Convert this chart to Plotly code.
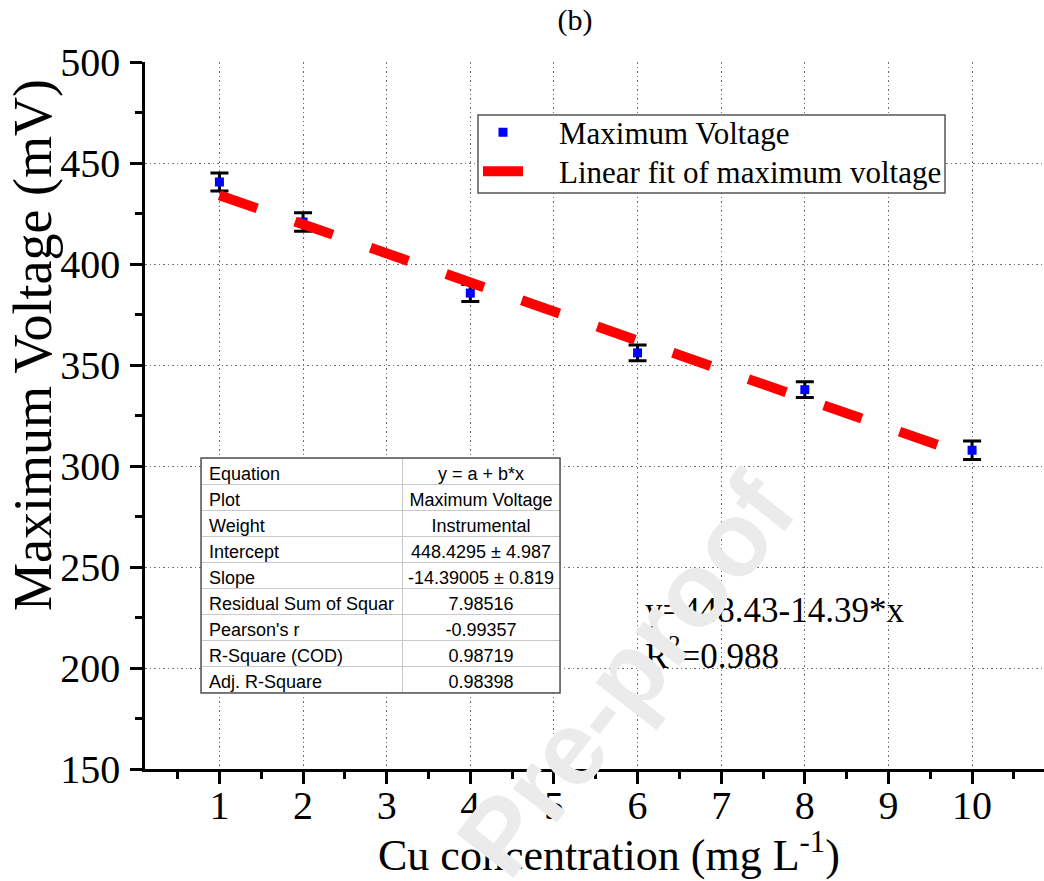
import plotly.graph_objects as go

# ---- data ----
conc = [1, 2, 4, 6, 8, 10]
voltage = [440.6, 420.8, 385.6, 356.0, 337.8, 307.8]
voltage_err = [4.5, 4.6, 4.2, 3.9, 3.9, 4.6]

fit_x = [1, 10]
fit_y = [434.04, 304.53]

x_ticks = [1, 2, 3, 4, 5, 6, 7, 8, 9, 10]
x_minor = [0.5, 1.5, 2.5, 3.5, 4.5, 5.5, 6.5, 7.5, 8.5, 9.5, 10.5]
y_ticks = [150, 200, 250, 300, 350, 400, 450, 500]

table_labels = ["Equation", "Plot", "Weight", "Intercept", "Slope",
                "Residual Sum of Squar", "Pearson's r", "R-Square (COD)",
                "Adj. R-Square"]
table_values = ["y = a + b*x", "Maximum Voltage", "Instrumental",
                "448.4295 ± 4.987", "-14.39005 ± 0.819", "7.98516",
                "-0.99357", "0.98719", "0.98398"]

SERIF = "Liberation Serif"
SANS = "Liberation Sans"
NB = "\u00a0"

W, H = 1044, 881
L, T, B = 145, 62, 112
PW = W - L
PH = H - T - B


def px(xp):
    return (xp - L) / PW


def py(yp):
    return (H - B - yp) / PH


def nbsp(s):
    return s.replace(" ", NB)


fig = go.Figure()

fig.add_trace(go.Scatter(
    x=conc, y=voltage, mode="markers",
    name=NB * 4 + "Maximum Voltage", legend="legend",
    marker=dict(symbol="square", size=9, color="#0000FF"),
    error_y=dict(type="data", array=voltage_err, color="black",
                 thickness=3, width=9),
))

fig.add_trace(go.Scatter(
    x=fit_x, y=fit_y, mode="lines",
    name=NB * 4 + "Linear fit of maximum voltage", legend="legend2",
    line=dict(color="#FF0000", width=10, dash="40px,40px"),
))

tab_font = dict(family=SANS, size=18, color="black")
fig.add_trace(go.Table(
    domain=dict(x=[px(201), px(560)], y=[py(693), py(458)]),
    columnwidth=[201, 158],
    header=dict(values=[nbsp(table_labels[0]), nbsp(table_values[0])],
                align=["left", "center"], height=26, font=tab_font,
                fill_color="white", line=dict(color="#c8c8c8", width=1)),
    cells=dict(values=[[nbsp(s) for s in table_labels[1:]],
                       [nbsp(s) for s in table_values[1:]]],
               align=["left", "center"], height=26, font=tab_font,
               fill_color="white", line=dict(color="#c8c8c8", width=1)),
))

axis_font = dict(family=SERIF, size=40, color="black")
leg_font = dict(family=SERIF, size=31, color="black")

fig.update_layout(
    width=W, height=H,
    margin=dict(l=L, r=0, t=T, b=B),
    paper_bgcolor="white", plot_bgcolor="white",
    showlegend=True,
    legend=dict(x=px(478), y=py(105.5), xanchor="left", yanchor="top",
                bgcolor="rgba(0,0,0,0)", borderwidth=0, font=leg_font,
                itemwidth=40),
    legend2=dict(x=px(478), y=py(144.5), xanchor="left", yanchor="top",
                 bgcolor="rgba(0,0,0,0)", borderwidth=0, font=leg_font,
                 itemwidth=40),
    title=dict(text="(b)", x=575 / W, y=1 - 19 / H, xref="container",
               yref="container", xanchor="center", yanchor="middle",
               font=dict(family=SERIF, size=30, color="black")),
    xaxis=dict(range=[0.11, 10.86], tickvals=x_ticks, ticks="outside",
               ticklen=12, tickwidth=2.5, tickcolor="black",
               showline=True, linecolor="black", linewidth=3,
               showgrid=True, gridcolor="#707070", gridwidth=1,
               griddash="1.5px,3px", zeroline=False,
               tickfont=axis_font, ticklabelstandoff=-13,
               minor=dict(tickvals=x_minor, ticks="outside", ticklen=7,
                          tickwidth=2.5, tickcolor="black", showgrid=False)),
    xaxis2=dict(range=[0.11, 10.86], overlaying="x", side="top",
                anchor="y", tickvals=x_ticks, ticks="inside", ticklen=12,
                tickwidth=2.5, tickcolor="black", showticklabels=False,
                showline=True, linecolor="black", linewidth=3,
                showgrid=False, zeroline=False,
                minor=dict(tickvals=x_minor, ticks="inside", ticklen=7,
                           tickwidth=2.5, tickcolor="black", showgrid=False)),
    yaxis=dict(range=[150, 500], tickvals=y_ticks, ticks="outside",
               ticklen=12, tickwidth=2.5, tickcolor="black",
               showline=True, linecolor="black", linewidth=2.5,
               showgrid=True, gridcolor="#707070", gridwidth=1,
               griddash="1.5px,3px", zeroline=False,
               tickfont=axis_font, ticklabelstandoff=2,
               minor=dict(dtick=25, ticks="outside", ticklen=7,
                          tickwidth=2.5, tickcolor="black", showgrid=False)),
    yaxis2=dict(range=[150, 500], overlaying="y", side="right", anchor="x",
                tickvals=y_ticks, ticks="inside", ticklen=11, tickwidth=2.5,
                tickcolor="black", showticklabels=False, showline=False,
                showgrid=False, zeroline=False,
                minor=dict(dtick=25, ticks="inside", ticklen=6,
                           tickwidth=2.5, tickcolor="black", showgrid=False)),
)

# legend frame
fig.add_shape(type="rect", xref="paper", yref="paper",
              x0=px(478), x1=px(945), y0=py(193), y1=py(115),
              fillcolor="white", line=dict(color="#555555", width=1.5),
              layer="above")

# outer border of the fit table
fig.add_shape(type="rect", xref="paper", yref="paper",
              x0=px(201), x1=px(560), y0=py(693), y1=py(458),
              line=dict(color="#555555", width=1.5), layer="above")

# axis titles
fig.add_annotation(text="Maximum Voltage (mV)", xref="paper", yref="paper",
                   x=px(33), y=py(345), textangle=-90, showarrow=False,
                   xanchor="center", yanchor="middle",
                   font=dict(family=SERIF, size=54, color="black"))
fig.add_annotation(text="Cu concentration (mg L<sup>-1</sup>)", xref="paper",
                   yref="paper", x=px(609), y=py(852), showarrow=False,
                   xanchor="center", yanchor="middle",
                   font=dict(family=SERIF, size=44, color="black"))

# fit equation
fig.add_annotation(text="y=448.43-14.39*x<br>R<sup>2</sup>=0.988",
                   xref="paper", yref="paper", x=px(643), y=py(633),
                   xanchor="left", yanchor="middle", align="left",
                   showarrow=False,
                   font=dict(family=SERIF, size=35, color="black"))

# watermark
fig.add_annotation(text="<b>Pre-proof</b>", xref="paper", yref="paper",
                   x=px(626), y=py(674), textangle=-52, showarrow=False,
                   xanchor="center", yanchor="middle",
                   font=dict(family=SANS, size=105, color="#ebebeb"))

fig.write_html("out.html")
